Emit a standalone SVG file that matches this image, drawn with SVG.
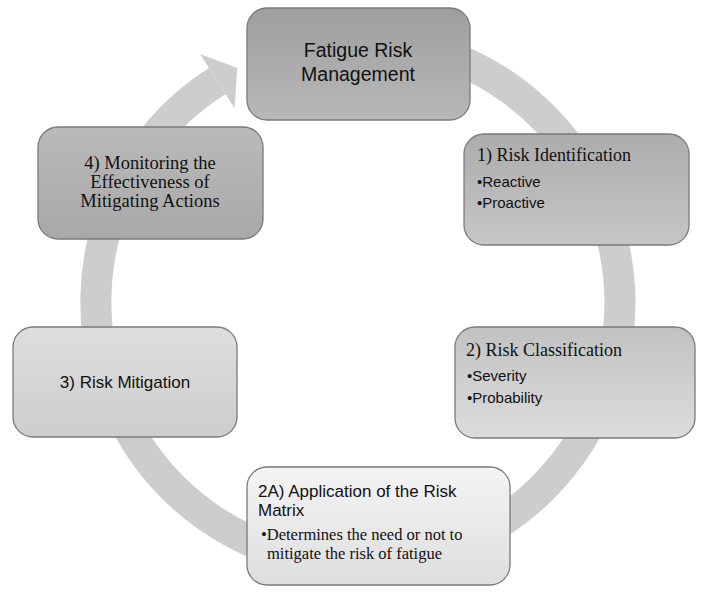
<svg xmlns="http://www.w3.org/2000/svg" width="708" height="594" viewBox="0 0 708 594">
<style>
.box{stroke:#7a7a7a;stroke-width:1.3}
.sans{font-family:"Liberation Sans",Arial,sans-serif;fill:#111}
.serif{font-family:"Liberation Serif","Times New Roman",serif;fill:#111}
.ring{fill:none;stroke:#cdcdcd;stroke-width:31}
</style>
<defs>
<linearGradient id="g0" x1="0" y1="0" x2="0" y2="1"><stop offset="0" stop-color="#9e9e9e"/><stop offset="1" stop-color="#b8b8b8"/></linearGradient>
<linearGradient id="g1" x1="0" y1="0" x2="0" y2="1"><stop offset="0" stop-color="#acacac"/><stop offset="1" stop-color="#c6c6c6"/></linearGradient>
<linearGradient id="g2" x1="0" y1="0" x2="0" y2="1"><stop offset="0" stop-color="#c2c2c2"/><stop offset="1" stop-color="#dcdcdc"/></linearGradient>
<linearGradient id="g3" x1="0" y1="0" x2="0" y2="1"><stop offset="0" stop-color="#f4f4f4"/><stop offset="1" stop-color="#dedede"/></linearGradient>
<linearGradient id="g4" x1="0" y1="0" x2="0" y2="1"><stop offset="0" stop-color="#dedede"/><stop offset="1" stop-color="#cdcdcd"/></linearGradient>
<linearGradient id="g5" x1="0" y1="0" x2="0" y2="1"><stop offset="0" stop-color="#bababa"/><stop offset="1" stop-color="#a8a8a8"/></linearGradient>
</defs>
<g id="connectors">
<path class="ring" d="M312.5,44 A262,262 0 1 1 217.2,81"/>
<polygon points="200,54 237.4,68.1 234.5,108" fill="#cdcdcd"/>
</g>
<g id="node-frm">
<rect class="box" x="247" y="8" width="223" height="112" rx="20" fill="url(#g0)"/>
<text class="sans" font-size="19.5" text-anchor="middle"><tspan x="358" y="57">Fatigue Risk</tspan><tspan x="358" y="81">Management</tspan></text>
</g>
<g id="node-1">
<rect class="box" x="464" y="134" width="225" height="111" rx="20" fill="url(#g1)"/>
<text class="serif" font-size="18" x="477" y="161">1) Risk Identification</text>
<text class="sans" font-size="15"><tspan x="477" y="187">•Reactive</tspan><tspan x="477" y="208">•Proactive</tspan></text>
</g>
<g id="node-2">
<rect class="box" x="455" y="327" width="240" height="111" rx="20" fill="url(#g2)"/>
<text class="serif" font-size="18" x="466" y="356">2) Risk Classification</text>
<text class="sans" font-size="15"><tspan x="467" y="381">•Severity</tspan><tspan x="467" y="403">•Probability</tspan></text>
</g>
<g id="node-2a">
<rect class="box" x="247" y="467" width="263" height="118" rx="20" fill="url(#g3)"/>
<text class="sans" font-size="17"><tspan x="258" y="497">2A) Application of the Risk</tspan><tspan x="258" y="516">Matrix</tspan></text>
<text class="serif" font-size="16.5"><tspan x="261" y="540">•Determines the need or not to</tspan><tspan x="267" y="559">mitigate the risk of fatigue</tspan></text>
</g>
<g id="node-3">
<rect class="box" x="13" y="327" width="224" height="110" rx="20" fill="url(#g4)"/>
<text class="sans" font-size="17" x="125" y="388" text-anchor="middle">3) Risk Mitigation</text>
</g>
<g id="node-4">
<rect class="box" x="38" y="127" width="225" height="112" rx="20" fill="url(#g5)"/>
<text class="serif" font-size="18.5" text-anchor="middle"><tspan x="150" y="169">4) Monitoring the</tspan><tspan x="150" y="188">Effectiveness of</tspan><tspan x="150" y="207">Mitigating Actions</tspan></text>
</g>
</svg>
